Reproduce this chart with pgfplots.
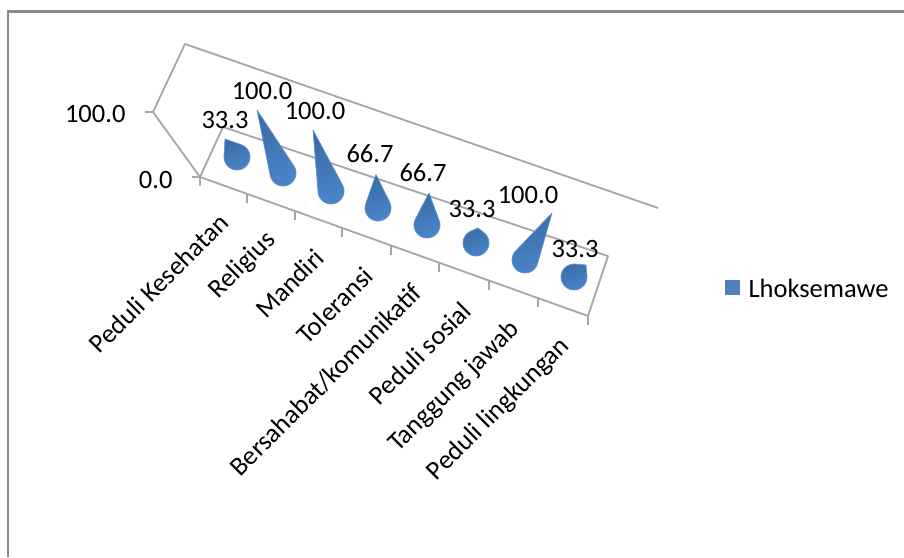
\documentclass[border=0pt]{standalone}
\usepackage{pgfplots}
\pgfplotsset{compat=1.18}
\usepackage{fontspec}
\setmainfont{Carlito}
\definecolor{frameline}{HTML}{8A8A8A}
\definecolor{gridline}{HTML}{A6A6A6}
\definecolor{conedark}{HTML}{3A6CA8}
\definecolor{conemid}{HTML}{3A72B6}
\definecolor{conelight}{HTML}{4A84C8}
\definecolor{coneedge}{HTML}{5F93CF}
\definecolor{legendblue}{HTML}{4F81BD}
\newcommand{\chartfont}{\fontsize{26.5}{31}\selectfont}

% One cone: base centre #1,#2; lean of a full-height cone #3,#4; value #5.
% The apex sits at base + value/100 * lean, the outline closes around the base circle.
\newcommand{\conebar}[5]{%
  \pgfmathsetmacro\lx{#5/100*#3}%
  \pgfmathsetmacro\ly{#5/100*#4}%
  \pgfmathsetmacro\dist{sqrt(\lx*\lx+\ly*\ly)}%
  \pgfmathsetmacro\dirang{atan2(\ly,\lx)}%
  \pgfmathsetmacro\tang{acos(13/\dist)}%
  \pgfmathsetmacro\apx{#1+\lx}%
  \pgfmathsetmacro\apy{#2+\ly}%
  \xdef\outline{(\apx,\apy)}%
  \foreach \k in {0,...,24}{%
    \pgfmathsetmacro\ang{\dirang+\tang+\k/24*(360-2*\tang)}%
    \pgfmathsetmacro\px{#1+13*cos(\ang)}%
    \pgfmathsetmacro\py{#2+13*sin(\ang)}%
    \xdef\outline{\outline (\px,\py)}%
  }%
  \edef\temp{\noexpand\addplot[draw=coneedge,line width=0.7pt,line join=round,
     top color=conedark,middle color=conemid,bottom color=conelight,shading angle=20]
     coordinates {\outline} --cycle;}%
  \temp
}

\begin{document}
\begin{tikzpicture}
\begin{axis}[
  x=1pt,y=1pt,
  xmin=0,xmax=904,ymin=0,ymax=557,
  y dir=reverse,
  hide axis,
  clip=true,
  scale only axis,
]
% page background
\addplot[draw=none,fill=white] coordinates {(0,0) (904,0) (904,557) (0,557)} --cycle;
% chart frame
\addplot[frameline,line width=2.2pt] coordinates {(8,557) (8,11.5) (904,11.5)};
% walls and floor
\addplot[gridline,line width=1.8pt,line join=round] coordinates {(200,177) (153,112) (185,44) (658,208)};
\addplot[gridline,line width=1.8pt,line join=round] coordinates {(200,177) (223,127) (608,256) (588,316) (200,177)};
% value axis ticks
\addplot[gridline,line width=1.5pt] coordinates {(145,112) (153,112)};
\addplot[gridline,line width=1.5pt] coordinates {(192,177) (200,177)};
% category ticks
\foreach \tx/\ty in {200/177,247/194,295/211,342/228,391/246,439/263,489/281,538/298,588/316}{
  \edef\temp{\noexpand\addplot[gridline,line width=1.5pt] coordinates {(\tx,\ty) (\tx,\ty+9)};}
  \temp
}
% cones, back to front
\conebar{237}{157}{-36}{-54}{33.3}
\conebar{283}{173}{-26}{-63}{100.0}
\conebar{331}{191}{-18}{-61}{100.0}
\conebar{378}{208}{-3}{-50}{66.7}
\conebar{427}{225}{3}{-48}{66.7}
\conebar{476}{243}{6}{-45}{33.3}
\conebar{525}{260}{27}{-47}{100.0}
\conebar{574}{277}{36}{-36}{33.3}
% axis numbers
\node[anchor=east,font=\chartfont] at (axis cs:129,114) {100.0};
\node[anchor=east,font=\chartfont] at (axis cs:176,180) {0.0};
% value labels
\foreach \lx/\ly/\lt in {225/120/33.3,262/91/100.0,315/111/100.0,370/154/66.7,423/173/66.7,472/209/33.3,528/195/100.0,575/249/33.3}{
  \edef\temp{\noexpand\node[font=\noexpand\chartfont] at (axis cs:\lx,\ly) {\lt};}
  \temp
}
% category names
\foreach \cx/\cy/\ct in {226/216/{Peduli Kesehatan},274/234/{Religius},322/251/{Mandiri},371/269/{Toleransi},420/286/{Bersahabat/komunikatif},469/304/{Peduli sosial},518/323/{Tanggung jawab},568/340/{Peduli lingkungan}}{
  \edef\temp{\noexpand\node[rotate=45,anchor=east,font=\noexpand\chartfont] at (axis cs:\cx,\cy) {\ct};}
  \temp
}
% legend
\addplot[draw=none,fill=legendblue] coordinates {(725,280) (740,280) (740,295) (725,295)} --cycle;
\node[anchor=west,font=\chartfont] at (axis cs:745,288) {Lhoksemawe};
\end{axis}
\end{tikzpicture}
\end{document}
